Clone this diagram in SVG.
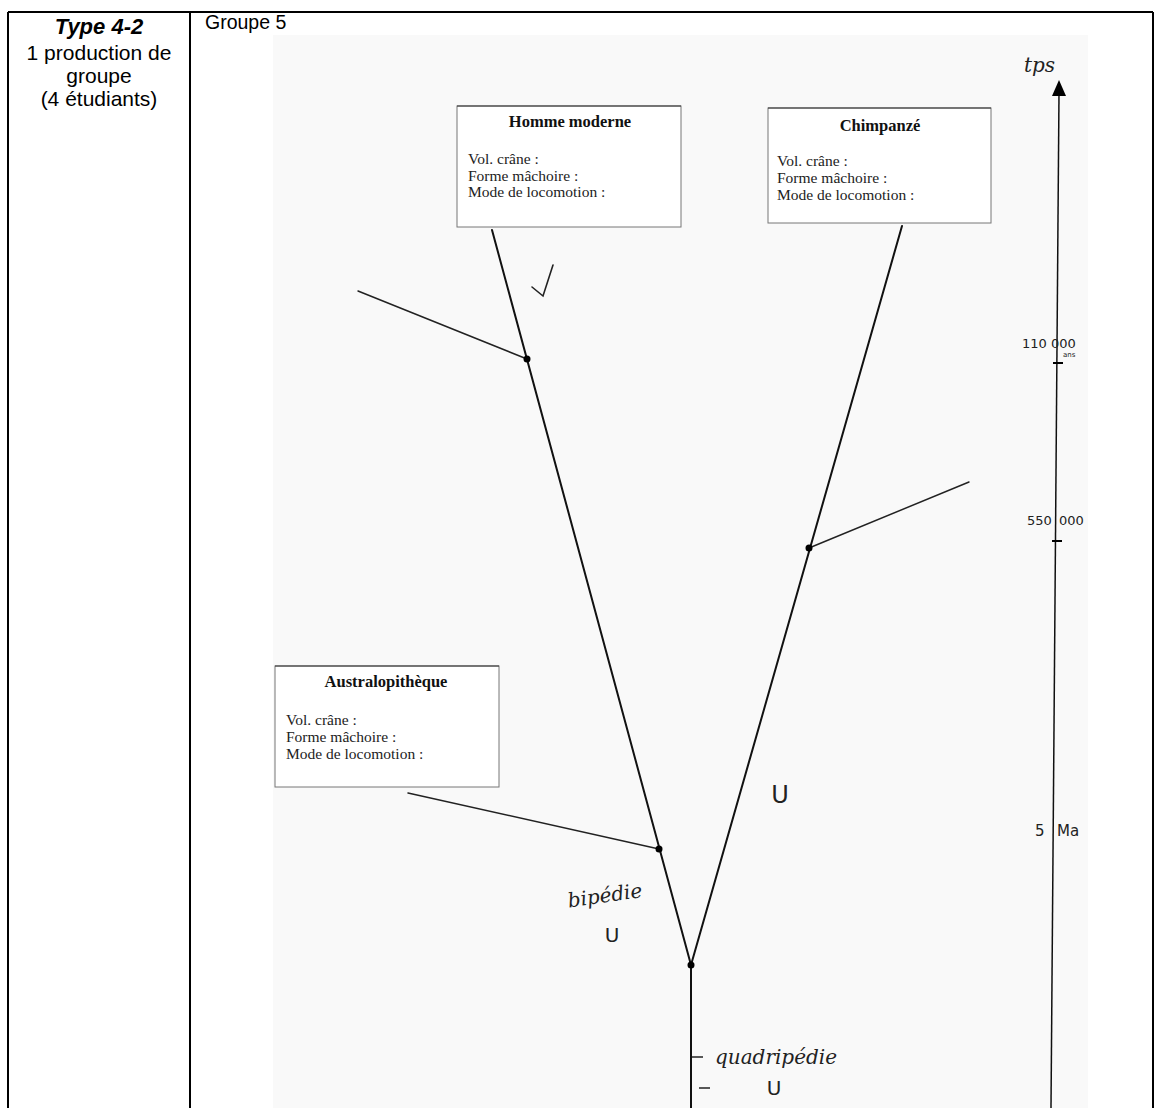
<svg xmlns="http://www.w3.org/2000/svg" width="1155" height="1108" viewBox="0 0 1155 1108">
<style>
  .cell { font-family: "Liberation Sans", Arial, sans-serif; fill: #000; }
  .box rect { fill: #fff; stroke: #777; stroke-width: 1; }
  .box .top { stroke: #333; stroke-width: 1.2; }
  .box .title { font-family: "Liberation Serif", "Times New Roman", serif; font-weight: bold; font-size: 16.5px; fill: #111; text-anchor: middle; }
  .box .body { font-family: "Liberation Serif", "Times New Roman", serif; font-size: 15.5px; fill: #222; }
  .hand { font-family: "DejaVu Serif", "Liberation Serif", serif; font-style: italic; fill: #222; }
  .mark { font-family: "DejaVu Sans", "Liberation Sans", sans-serif; fill: #222; }
  .branch { stroke: #111; stroke-width: 2; fill: none; stroke-linecap: round; }
  .side { stroke: #222; stroke-width: 1.5; fill: none; stroke-linecap: round; }
  .dot { fill: #000; }
</style>

<!-- table frame -->
<rect x="0" y="0" width="1155" height="1108" fill="#fff"/>
<rect x="273" y="35" width="815" height="1073" fill="#f9f9f9"/>
<g id="table" stroke="#000" stroke-width="2" fill="none">
  <line x1="8" y1="12" x2="1153" y2="12"/>
  <line x1="8" y1="12" x2="8" y2="1108"/>
  <line x1="190" y1="12" x2="190" y2="1108"/>
  <line x1="1153" y1="12" x2="1153" y2="1108"/>
</g>
<g id="left-cell" class="cell" text-anchor="middle">
  <text x="99" y="34" font-size="22" font-weight="bold" font-style="italic">Type 4-2</text>
  <text x="99" y="60" font-size="21">1 production de</text>
  <text x="99" y="83" font-size="21">groupe</text>
  <text x="99" y="106" font-size="21">(4 étudiants)</text>
</g>
<text class="cell" x="205" y="29" font-size="19.5">Groupe 5</text>

<!-- connectors -->
<g id="connectors">
  <line class="branch" x1="492" y1="230" x2="691" y2="965"/>
  <line class="branch" x1="902" y1="226" x2="691" y2="965"/>
  <line class="branch" x1="691" y1="965" x2="691" y2="1108"/>
  <line class="side" x1="358" y1="291" x2="527" y2="359"/>
  <line class="side" x1="969" y1="482" x2="809" y2="548"/>
  <line class="side" x1="408" y1="793" x2="659" y2="849"/>
  <circle class="dot" cx="527" cy="359" r="3.5"/>
  <circle class="dot" cx="809" cy="548" r="3.5"/>
  <circle class="dot" cx="659" cy="849" r="3.5"/>
  <circle class="dot" cx="691" cy="965" r="3.5"/>
</g>

<!-- nodes -->
<g id="homme-moderne" class="box">
  <rect x="457" y="106" width="224" height="121"/>
  <line class="top" x1="457" y1="106" x2="681" y2="106"/>
  <text class="title" x="570" y="127">Homme moderne</text>
  <text class="body" x="468" y="164">Vol. crâne :</text>
  <text class="body" x="468" y="181">Forme mâchoire :</text>
  <text class="body" x="468" y="197">Mode de locomotion :</text>
</g>
<g id="chimpanze" class="box">
  <rect x="768" y="108" width="223" height="115"/>
  <line class="top" x1="768" y1="108" x2="991" y2="108"/>
  <text class="title" x="880" y="131">Chimpanzé</text>
  <text class="body" x="777" y="166">Vol. crâne :</text>
  <text class="body" x="777" y="183">Forme mâchoire :</text>
  <text class="body" x="777" y="200">Mode de locomotion :</text>
</g>
<g id="australopitheque" class="box">
  <rect x="275" y="666" width="224" height="121"/>
  <line class="top" x1="275" y1="666" x2="499" y2="666"/>
  <text class="title" x="386" y="687">Australopithèque</text>
  <text class="body" x="286" y="725">Vol. crâne :</text>
  <text class="body" x="286" y="742">Forme mâchoire :</text>
  <text class="body" x="286" y="759">Mode de locomotion :</text>
</g>

<!-- time axis -->
<g id="time-axis">
  <line x1="1059" y1="93" x2="1051" y2="1108" stroke="#111" stroke-width="1.5"/>
  <polygon points="1059,80 1052,96 1066,96" fill="#000"/>
  <text class="hand" x="1024" y="72" font-size="20">tps</text>
  <line x1="1053" y1="363" x2="1063" y2="363" stroke="#000" stroke-width="2"/>
  <text class="mark" x="1022" y="348" font-size="13">110 000</text>
  <text class="mark" x="1063" y="357" font-size="7">ans</text>
  <line x1="1052" y1="541" x2="1062" y2="541" stroke="#000" stroke-width="2"/>
  <text class="mark" y="525" font-size="13"><tspan x="1027">550</tspan><tspan x="1059">000</tspan></text>
  <text class="mark" y="836" font-size="15"><tspan x="1035">5</tspan><tspan x="1057">Ma</tspan></text>
</g>

<!-- annotations -->
<g id="annotations">
  <path d="M532,287 L543,296 L553,265" fill="none" stroke="#222" stroke-width="1.6" stroke-linecap="round"/>
  <text class="mark" x="780" y="803" font-size="24" text-anchor="middle">U</text>
  <text class="hand" x="568" y="903" font-size="20" transform="rotate(-8 600 900)">bipédie</text>
  <text class="mark" x="612" y="942" font-size="20" text-anchor="middle">U</text>
  <line x1="692" y1="1057" x2="703" y2="1057" stroke="#222" stroke-width="1.5"/>
  <line x1="699" y1="1088" x2="710" y2="1088" stroke="#222" stroke-width="1.5"/>
  <text class="hand" x="715" y="1064" font-size="20">quadripédie</text>
  <text class="mark" x="774" y="1095" font-size="20" text-anchor="middle">U</text>
</g>
</svg>
